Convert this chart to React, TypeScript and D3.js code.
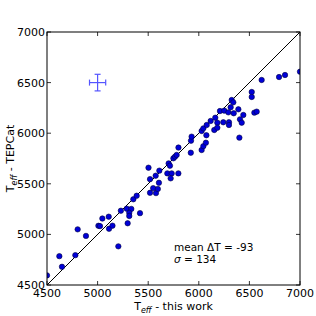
import React from "react";
import * as d3 from "d3";

// T_eff from this work vs TEPCat (K)
const thisWork = [
  4500, 4622, 4648, 4780, 4803, 4885, 5008, 5024, 5047, 5110,
  5113, 5147, 5205, 5230, 5288, 5333, 5313, 5313, 5297, 5419,
  5353, 5386, 5503, 5518, 5574, 5610, 5549, 5518, 5577, 5595,
  5606, 5689, 5732, 5722, 5798, 5702, 5715, 5749, 5765, 5781,
  5799, 5921, 5923, 5929, 6028, 6045, 6070, 6075, 6028, 6045,
  6078, 6117, 6153, 6163, 6183, 6183, 6209, 6242, 6252, 6292,
  6298, 6298, 6315, 6325, 6341, 6345, 6391, 6401, 6407, 6424,
  6440, 6523, 6523, 6549, 6572, 6621, 6793, 6852, 7000,
];
const tepcat = [
  4595, 4785, 4680, 4795, 5050, 4985, 5085, 5082, 5157, 5175,
  5056, 5086, 4882, 5234, 5254, 5252, 5213, 5182, 5110, 5210,
  5347, 5382, 5659, 5546, 5580, 5630, 5457, 5411, 5408, 5449,
  5510, 5603, 5603, 5554, 5603, 5702, 5679, 5752, 5768, 5785,
  5858, 5807, 5926, 5966, 5834, 5872, 5906, 5980, 6022, 6048,
  6081, 6121, 6032, 6153, 6104, 6054, 6219, 6108, 6223, 6206,
  6108, 6081, 6256, 6328, 6305, 6197, 6236, 5956, 6137, 6104,
  6180, 6407, 6358, 6203, 6213, 6526, 6555, 6575, 6608,
];
const tickValues = [4500, 5000, 5500, 6000, 6500, 7000];
const errPoint = { x: 5000, y: 6500, dx: 80, dy: 82 };
const statLines = ["mean \u0394T = -93", "= 134"];

const W = 316;
const H = 316;
const m = { left: 47, top: 32, right: 16, bottom: 31 };

export default function App() {
  const x = d3.scaleLinear().domain([4500, 7000]).range([m.left, W - m.right]);
  const y = d3.scaleLinear().domain([4500, 7000]).range([H - m.bottom, m.top]);
  const font = "DejaVu Sans, sans-serif";
  const tl = 4;

  return (
    <svg width={W} height={H} style={{ position: "absolute", left: 0, top: 0 }} fontFamily={font}>
      <rect width={W} height={H} fill="#fff" />
      <defs>
        <clipPath id="plot">
          <rect x={x(4500)} y={y(7000)} width={x(7000) - x(4500)} height={y(4500) - y(7000)} />
        </clipPath>
      </defs>

      <g clipPath="url(#plot)">
        <line x1={x(4500)} y1={y(4500)} x2={x(7000)} y2={y(7000)} stroke="#000" strokeWidth={1} />
        {thisWork.map((d, i) => (
          <circle key={i} cx={x(d)} cy={y(tepcat[i])} r={2.7} fill="#0000d8" stroke="#000040" strokeWidth={0.6} />
        ))}
      </g>

      {/* representative error bar */}
      <g stroke="#5555ff" strokeWidth={1.2}>
        <line x1={x(errPoint.x - errPoint.dx)} x2={x(errPoint.x + errPoint.dx)} y1={y(errPoint.y)} y2={y(errPoint.y)} />
        <line x1={x(errPoint.x)} x2={x(errPoint.x)} y1={y(errPoint.y - errPoint.dy)} y2={y(errPoint.y + errPoint.dy)} />
        <line x1={x(errPoint.x - errPoint.dx)} x2={x(errPoint.x - errPoint.dx)} y1={y(errPoint.y) - 3} y2={y(errPoint.y) + 3} />
        <line x1={x(errPoint.x + errPoint.dx)} x2={x(errPoint.x + errPoint.dx)} y1={y(errPoint.y) - 3} y2={y(errPoint.y) + 3} />
        <line x1={x(errPoint.x) - 3} x2={x(errPoint.x) + 3} y1={y(errPoint.y - errPoint.dy)} y2={y(errPoint.y - errPoint.dy)} />
        <line x1={x(errPoint.x) - 3} x2={x(errPoint.x) + 3} y1={y(errPoint.y + errPoint.dy)} y2={y(errPoint.y + errPoint.dy)} />
      </g>

      {/* ticks on all four sides, pointing inward */}
      <g stroke="#000" strokeWidth={0.8}>
        {tickValues.map((t) => (
          <g key={t}>
            <line x1={x(t)} x2={x(t)} y1={y(4500)} y2={y(4500) - tl} />
            <line x1={x(t)} x2={x(t)} y1={y(7000)} y2={y(7000) + tl} />
            <line y1={y(t)} y2={y(t)} x1={x(4500)} x2={x(4500) + tl} />
            <line y1={y(t)} y2={y(t)} x1={x(7000)} x2={x(7000) - tl} />
          </g>
        ))}
      </g>
      <rect x={x(4500)} y={y(7000)} width={x(7000) - x(4500)} height={y(4500) - y(7000)} fill="none" stroke="#000" strokeWidth={1} />

      <g fontSize={11} fill="#000">
        {tickValues.map((t) => (
          <text key={"x" + t} x={x(t)} y={y(4500) + 12} textAnchor="middle">{t}</text>
        ))}
        {tickValues.map((t) => (
          <text key={"y" + t} x={x(4500) - 2} y={y(t) + 4} textAnchor="end">{t}</text>
        ))}
      </g>

      <text x={(x(4500) + x(7000)) / 2} y={H - 6} textAnchor="middle" fontSize={11}>
        T<tspan fontSize={8} fontStyle="italic" dy={3}>eff</tspan>
        <tspan dy={-3}> - this work</tspan>
      </text>
      <text transform={`translate(14,${(y(4500) + y(7000)) / 2}) rotate(-90)`} textAnchor="middle" fontSize={11}>
        T<tspan fontSize={8} fontStyle="italic" dy={3}>eff</tspan>
        <tspan dy={-3}> - TEPCat</tspan>
      </text>

      <text x={174} y={251} fontSize={10.5}>{statLines[0]}</text>
      <text x={174} y={263} fontSize={10.5}>
        <tspan fontStyle="italic">{"\u03c3"}</tspan> {statLines[1]}
      </text>
    </svg>
  );
}
